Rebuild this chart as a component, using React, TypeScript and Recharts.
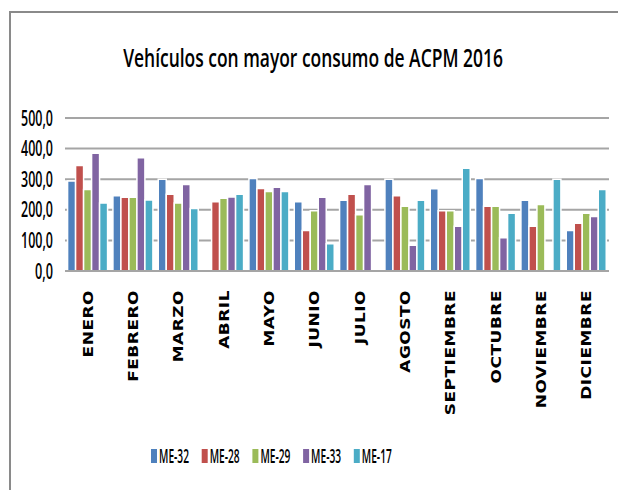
import React, { useLayoutEffect, useRef, useState } from "react";
import { BarChart, Bar, XAxis, YAxis, CartesianGrid, Legend } from "recharts";

// Datos
const months = [
  "ENERO", "FEBRERO", "MARZO", "ABRIL", "MAYO", "JUNIO",
  "JULIO", "AGOSTO", "SEPTIEMBRE", "OCTUBRE", "NOVIEMBRE", "DICIEMBRE"
];
const me32 = [294, 246, 300, null, 302, 226, 231, 300, 269, 302, 231, 132];
const me28 = [345, 241, 251, 226, 270, 132, 251, 246, 197, 212, 146, 156];
const me29 = [266, 241, 222, 238, 260, 197, 184, 212, 197, 212, 217, 189];
const me33 = [385, 370, 283, 242, 274, 241, 283, 84, 146, 109, null, 178];
const me17 = [222, 232, 204, 251, 260, 89, null, 231, 336, 189, 300, 266];
const yTicks = [0, 100, 200, 300, 400, 500];

const series = [
  { key: "ME-32", values: me32, color: "#4F81BD" },
  { key: "ME-28", values: me28, color: "#C0504D" },
  { key: "ME-29", values: me29, color: "#9BBB59" },
  { key: "ME-33", values: me33, color: "#8064A2" },
  { key: "ME-17", values: me17, color: "#4BACC6" }
];

// claves s0..s4 para mantener el orden de las series
const data = months.map((mes, i) => {
  const row: any = { mes };
  series.forEach((s, j) => {
    row[`s${j}`] = s.values[i];
  });
  return row;
});

const textFont = "'Open Sans', 'Liberation Sans', Arial, sans-serif";

// texto estrechado horizontalmente hasta un ancho dado (fuente tipo Calibri)
function FitText({ x, y, width, anchor = "start", children, ...rest }: any) {
  const ref = useRef<SVGTextElement>(null);
  const [sx, setSx] = useState(1);
  useLayoutEffect(() => {
    if (!ref.current) return;
    const w = ref.current.getComputedTextLength();
    if (w > 0) setSx(width / w);
  }, [width, children]);
  return (
    <text
      ref={ref}
      transform={`translate(${x}, ${y}) scale(${sx}, 1)`}
      textAnchor={anchor}
      fontFamily={textFont}
      fill="#000"
      {...rest}
    >
      {children}
    </text>
  );
}

// etiqueta de mes rotada
const MonthTick = (props: any) => {
  const { x, y, payload } = props;
  return (
    <text
      transform={`translate(${x + 5}, ${y + 11}) rotate(-90) scale(1, 0.8)`}
      textAnchor="end"
      fontFamily="'DejaVu Sans', Verdana, sans-serif"
      fontWeight="bold"
      fontSize={17}
      letterSpacing={0.5}
      fill="#000"
    >
      {payload.value}
    </text>
  );
};

const ValueTick = (props: any) => {
  const { x, y, payload } = props;
  const label = Number(payload.value).toFixed(1).replace(".", ",");
  const width = label.replace(",", "").length * 7 + 4;
  return (
    <FitText x={x - 4} y={y + 7.5} width={width} anchor="end" fontSize={22} fontWeight={600}>
      {label}
    </FitText>
  );
};

// leyenda en el orden original de las series
const renderLegend = () => (
  <svg width={618} height={40} style={{ overflow: "visible" }}>
    {series.map((s, i) => {
      const x0 = 151 + i * 50.7;
      return (
        <g key={`leg-${i}`}>
          <rect x={x0} y={13} width={6} height={14} fill={s.color} />
          <FitText x={x0 + 8} y={26.5} width={30} fontSize={20} fontWeight={600}>
            {s.key}
          </FitText>
        </g>
      );
    })}
  </svg>
);

export default function App() {
  return (
    <div
      style={{
        position: "fixed",
        left: 0,
        top: 0,
        width: 618,
        height: 490,
        background: "#fff",
        overflow: "hidden"
      }}
    >
      <div
        style={{
          position: "absolute",
          left: 9,
          top: 11,
          width: 700,
          height: 600,
          borderTop: "2px solid #8a8a8a",
          borderLeft: "2px solid #8a8a8a"
        }}
      />
      <div style={{ position: "absolute", left: 0, top: 0 }}>
        <BarChart
          width={618}
          height={490}
          data={data}
          margin={{ top: 118, right: 9, left: 5, bottom: 69 }}
          barGap={0}
          barCategoryGap="5.7%"
        >
          <CartesianGrid vertical={false} stroke="#a5a5a5" strokeWidth={2} />
          <XAxis
            dataKey="mes"
            interval={0}
            height={150}
            tickLine={false}
            axisLine={{ stroke: "#a5a5a5", strokeWidth: 2 }}
            tick={MonthTick}
          />
          <YAxis
            width={60}
            domain={[0, 500]}
            ticks={yTicks}
            axisLine={false}
            tickLine={false}
            tick={ValueTick}
          />
          <Legend
            layout="horizontal"
            verticalAlign="middle"
            align="center"
            content={renderLegend}
            wrapperStyle={{ top: 436, left: 0, width: 618 }}
          />
          {series.map((s, j) => (
            <Bar
              key={s.key}
              dataKey={`s${j}`}
              name={s.key}
              fill={s.color}
              stroke="#fff"
              strokeWidth={1.5}
              isAnimationActive={false}
            />
          ))}
        </BarChart>
      </div>
      <svg
        width={618}
        height={100}
        style={{ position: "absolute", left: 0, top: 0, pointerEvents: "none" }}
      >
        <FitText x={313} y={67} width={380} anchor="middle" fontSize={26} fontWeight={600}>
          Vehículos con mayor consumo de ACPM 2016
        </FitText>
      </svg>
    </div>
  );
}
